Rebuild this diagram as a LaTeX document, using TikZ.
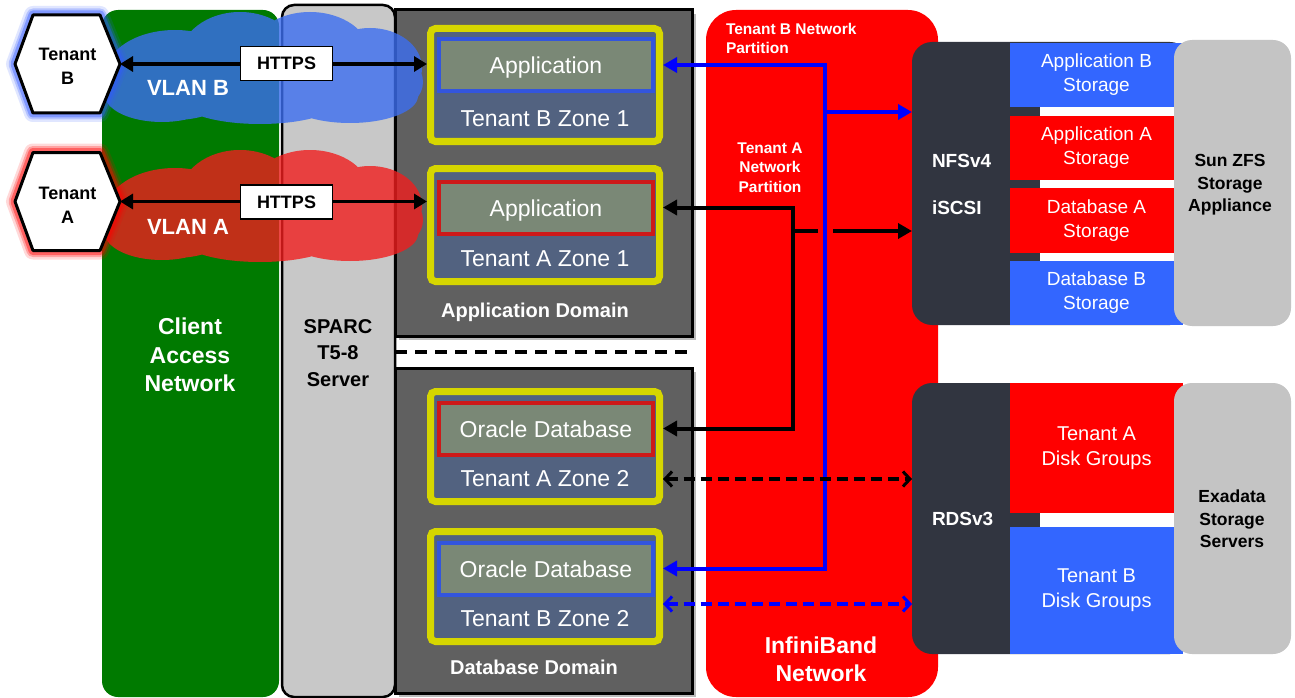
\documentclass[tikz,border=0pt]{standalone}
\usepackage{fontspec}
\setmainfont{Liberation Sans}
\usetikzlibrary{arrows.meta,calc}
\definecolor{cgreen}{RGB}{0,122,0}
\definecolor{srvgray}{RGB}{200,200,200}
\definecolor{domgray}{RGB}{96,96,96}
\definecolor{zyellow}{RGB}{214,214,0}
\definecolor{zslate}{RGB}{82,98,128}
\definecolor{appfill}{RGB}{122,136,118}
\definecolor{bborder}{RGB}{51,85,221}
\definecolor{rborder}{RGB}{205,25,25}
\definecolor{ibred}{RGB}{255,0,0}
\definecolor{dslate}{RGB}{49,53,64}
\definecolor{stblue}{RGB}{51,102,255}
\definecolor{stred}{RGB}{255,0,0}
\definecolor{appgray}{RGB}{196,196,196}
\definecolor{cloudb}{RGB}{60,110,240}
\definecolor{cloudr}{RGB}{240,30,30}
\definecolor{pblue}{RGB}{0,0,255}
\newcommand{\fsz}[2]{\fontsize{#1}{#2}\selectfont}
\tikzset{
  tritip/.tip={Triangle[length=14pt,width=15pt]},
  htip/.tip={Triangle[length=13pt,width=15pt]},
  barbtip/.tip={Straight Barb[length=7pt,width=15pt,line width=3pt]}
}
\begin{document}
\begin{tikzpicture}[x=1pt,y=-1pt,
  every node/.style={inner sep=0pt,outer sep=0pt},
  dombox/.style={fill=domgray,draw=black,line width=3pt},
  zonebox/.style={draw=zyellow,line width=7pt,fill=zslate,rounded corners=5pt,minimum width=229pt,outer sep=3.5pt},
  appbox/.style={fill=appfill,line width=4pt,minimum width=214pt,minimum height=52pt,text=white,font=\fsz{23}{26},text height=17pt,text depth=0pt},
  zlabel/.style={text=white,font=\fsz{23}{26}},
  stor/.style={minimum width=173pt,text=white,font=\fsz{19}{24},align=center},
  wbold/.style={text=white,font=\bfseries\fsz{#1}{#1}},
  hexp/.style={insert path={(#1.west) -- ($(#1.north west)+(18,0)$) -- ($(#1.north east)+(-20,0)$) -- (#1.east) -- ($(#1.south east)+(-20,0)$) -- ($(#1.south west)+(18,0)$) -- cycle}},
  cloudp/.style={insert path={(175,75) ellipse [x radius=70,y radius=45] (240,58) ellipse [x radius=60,y radius=46] (310,55) ellipse [x radius=60,y radius=43] (370,68) ellipse [x radius=52,y radius=40] (162,95) ellipse [x radius=57,y radius=27] (260,100) ellipse [x radius=80,y radius=24] (350,96) ellipse [x radius=68,y radius=27] (395,82) ellipse [x radius=28,y radius=26]}},
  httpsbox/.style={draw=black,line width=1.2pt,fill=white,minimum width=92pt,minimum height=34pt,font=\bfseries\fsz{18}{18}},
  harrow/.style={line width=3.5pt,{htip}-{htip}},
  bkline/.style={line width=4pt,black},
  blline/.style={line width=4pt,pblue},
  dshline/.style={line width=3.5pt,dash pattern=on 11pt off 6pt}
]
\useasboundingbox (0,0) rectangle (1295,698);
\fill[white] (0,0) rectangle (1295,698);

% client access network and server
\node[fill=cgreen,rounded corners=16pt,minimum width=177pt,minimum height=687pt] (can) at (190.5,353.5) {};
\node[fill=srvgray,draw=black,line width=2.5pt,rounded corners=12pt,minimum width=113pt,minimum height=692pt] (srv) at (338.5,351) {};

% domains
\fill[black!45,opacity=.6] (399,14) rectangle (696,340);
\fill[black!45,opacity=.6] (399,372) rectangle (696,697);
\node[dombox,minimum width=297pt,minimum height=326pt] (adom) at (543.5,173) {};
\node[dombox,minimum width=297pt,minimum height=325pt] (ddom) at (543.5,530.5) {};
\draw[line width=4pt,dash pattern=on 12pt off 8pt] (adom.south west |- 0,352) -- (adom.south east |- 0,352);

% zones
\node[zonebox,minimum height=113pt] (zb1) at (545,85) {};
\node[zonebox,minimum height=113pt] (za1) at (545,225) {};
\node[zonebox,minimum height=110pt] (za2) at (545,446.5) {};
\node[zonebox,minimum height=110pt] (zb2) at (545,586.5) {};
\node[appbox,draw=bborder] (appb) at (546,65) {Application};
\node[appbox,draw=rborder] (appa) at (546,207.5) {Application};
\node[appbox,draw=rborder] (ora) at (546,428.5) {Oracle Database};
\node[appbox,draw=bborder] (orb) at (546,568.5) {Oracle Database};
\node[zlabel] (lzb1) at (545,119) {Tenant B Zone 1};
\node[zlabel] (lza1) at (545,259) {Tenant A Zone 1};
\node[zlabel] (lza2) at (545,479) {Tenant A Zone 2};
\node[zlabel] (lzb2) at (545,619) {Tenant B Zone 2};
\node[wbold=20] (ladom) at (535,312) {Application Domain};
\node[wbold=20] (lddom) at (534,667) {Database Domain};

% clouds
\fill[cloudb,opacity=.8,cloudp];
\fill[cloudr,opacity=.8,shift={(0,138)},cloudp];

% tenants
\node[minimum width=105pt,minimum height=98pt] (tb) at (67.5,64) {};
\node[minimum width=105pt,minimum height=98pt] (ta) at (67.5,201.5) {};
\foreach \w/\o in {18/.15,13/.25,9/.4}{
  \draw[line join=round,line width=\w pt,opacity=\o,color={rgb,255:red,50;green,90;blue,255},hexp=tb];
  \draw[line join=round,line width=\w pt,opacity=\o,color=red,hexp=ta];
}
\draw[fill=white,draw=black,line width=3pt,line join=round,hexp=tb];
\draw[fill=white,draw=black,line width=3pt,line join=round,hexp=ta];
\node[align=center,font=\bfseries\fsz{18}{24}] (ttb) at (67.5,66) {Tenant\\B};
\node[align=center,font=\bfseries\fsz{18}{24}] (tta) at (67.5,205) {Tenant\\A};

% https
\draw[harrow] (tb.east) -- (tb.east -| zb1.west);
\draw[harrow] (ta.east) -- (ta.east -| za1.west);
\node[httpsbox] (h1) at (286.5,63.5) {HTTPS};
\node[httpsbox] (h2) at (286.5,202) {HTTPS};
\node[wbold=22] (vb) at (188,88) {VLAN B};
\node[wbold=22] (va) at (188,227) {VLAN A};
\node[align=center,text=white,font=\bfseries\fsz{23}{28.5}] (tcan) at (190,355) {Client\\Access\\Network};
\node[align=center,font=\bfseries\fsz{20}{26.5}] (tsrv) at (338,353) {SPARC\\T5-8\\Server};

% infiniband
\node[fill=ibred,rounded corners=30pt,minimum width=232pt,minimum height=687pt] (ib) at (822,353.5) {};
\node[anchor=west,align=left,text=white,font=\bfseries\fsz{15.5}{19}] (pb) at (726,38.5) {Tenant B Network\\Partition};
\node[align=center,text=white,font=\bfseries\fsz{15.5}{19.5}] (pa) at (770,167.5) {Tenant A\\Network\\Partition};
\node[align=center,text=white,font=\bfseries\fsz{23}{28}] (tib) at (821,659) {InfiniBand\\Network};

% ZFS storage
\node[fill=dslate,rounded corners=20pt,minimum width=278pt,minimum height=283pt] (nfs) at (1051,183.5) {};
\node[stor,fill=stblue,minimum height=64pt] (sab) at (1096.5,75) {Application B\\Storage};
\node[stor,fill=stred,minimum height=64pt] (saa) at (1096.5,148) {Application A\\Storage};
\node[stor,fill=stred,minimum height=65pt] (sda) at (1096.5,220.5) {Database A\\Storage};
\node[stor,fill=stblue,minimum height=64pt] (sdb) at (1096.5,293) {Database B\\Storage};
\fill[white] (1040,107) rectangle (1183,116);
\fill[white] (1040,180) rectangle (1183,188);
\fill[white] (1040,253) rectangle (1183,261);
\node[fill=appgray,rounded corners=18pt,minimum width=117pt,minimum height=286pt] (zfs) at (1232.5,183) {};
\node[align=center,font=\bfseries\fsz{17.5}{22.5}] (tzfs) at (1230,185) {Sun ZFS\\Storage\\Appliance};
\node[anchor=west,wbold=19] (tnfs) at (932,161) {NFSv4};
\node[anchor=west,wbold=19] (tisc) at (932,208) {iSCSI};

% Exadata
\node[fill=dslate,rounded corners=20pt,minimum width=278pt,minimum height=271pt] (rds) at (1051,518.5) {};
\node[stor,fill=stred,minimum height=130pt,font=\fsz{20}{25}] (dga) at (1096.5,448) {Tenant A\\Disk Groups};
\node[stor,fill=stblue,minimum height=127pt,font=\fsz{20}{25}] (dgb) at (1096.5,590.5) {Tenant B\\Disk Groups};
\fill[white] (1040,513) rectangle (1183,527);
\node[fill=appgray,rounded corners=18pt,minimum width=117pt,minimum height=271pt] (exa) at (1232.5,518.5) {};
\node[align=center,font=\bfseries\fsz{17.5}{22.5}] (texa) at (1232,519) {Exadata\\Storage\\Servers};
\node[anchor=west,wbold=19] (trds) at (932,519) {RDSv3};

% connectors
\coordinate (ax) at (793,0);
\coordinate (bx) at (825,0);
\coordinate (abr) at (793,231);
\coordinate (abg) at (833,231);
\coordinate (bbr) at (825,112);
\draw[bkline,{tritip}-{tritip}] (za1.east |- appa.east) -- (ax |- appa.east) -- (ax |- ora.east) -- (za2.east |- ora.east);
\draw[bkline] (abr) -- ++(25,0);
\draw[bkline,-{tritip}] (abg) -- (abg -| nfs.west);
\draw[blline,{tritip}-{tritip}] (zb1.east |- appb.east) -- (bx |- appb.east) -- (bx |- orb.east) -- (zb2.east |- orb.east);
\draw[blline,-{tritip}] (bbr) -- (bbr -| nfs.west);
\draw[dshline,black,{barbtip}-{barbtip}] (za2.east |- lza2.east) -- (lza2.east -| rds.west);
\draw[dshline,pblue,{barbtip}-{barbtip}] (zb2.east |- 0,604) -- (rds.west |- 0,604);
\end{tikzpicture}
\end{document}
